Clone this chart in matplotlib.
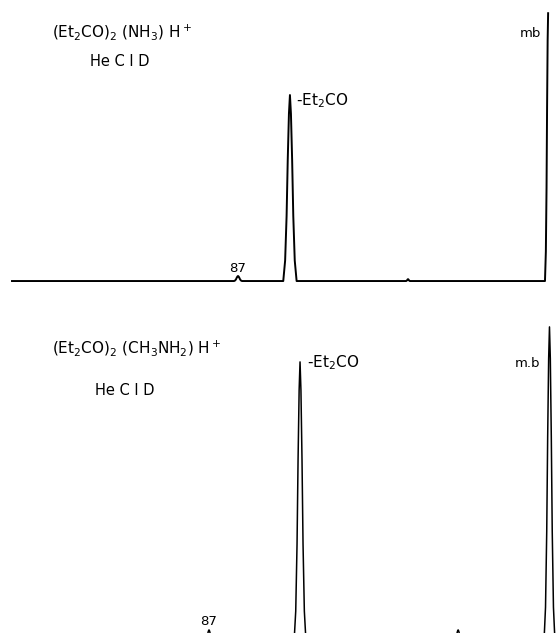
import matplotlib
matplotlib.use("Agg")
import matplotlib.pyplot as plt
import numpy as np

# x = fragment energy / parent energy (E/E0), y = relative intensity
# top spectrum: (Et2CO)2(NH3)H+
top_centers = [0.4571, 0.5480, 0.7547, 1.0000]
top_heights = [0.027, 1.000, 0.010, 1.440]
top_halfw = [0.0070, 0.0117, 0.0035, 0.0055]
top_start, top_end = 0.0614, 1.0000

# bottom spectrum: (Et2CO)2(CH3NH2)H+
bot_centers = [0.4257, 0.5794, 0.8463, 1.0005]
bot_heights = [0.043, 1.000, 0.043, 1.125]
bot_halfw = [0.0068, 0.0101, 0.0068, 0.0093]
bot_start, bot_end = 0.0729, 1.0100

# peak outline (offset / half-width at base, fraction of height)
shape_dx = [-1.0, -0.72, -0.5, -0.33, -0.15, 0.0, 0.15, 0.33, 0.5, 0.72, 1.0]
shape_y = [0.0, 0.11, 0.35, 0.65, 0.9, 1.0, 0.9, 0.65, 0.35, 0.11, 0.0]


def build_trace(centers, heights, halfw, start, end):
    dx = np.array(shape_dx)
    knots = [start, end]
    for c, w in zip(centers, halfw):
        knots.extend(c + dx * w)
    xs = np.unique(np.clip(knots, start, end))
    ys = np.zeros_like(xs)
    for c, h, w in zip(centers, heights, halfw):
        ys += np.interp(xs, c + dx * w, h * np.array(shape_y), left=0, right=0)
    return xs, ys


W, H = 556, 633
fig = plt.figure(figsize=(W / 100, H / 100), dpi=100)
ax1 = fig.add_axes([0, 1 - 300 / H, 1, 300 / H])
ax2 = fig.add_axes([0, 0, 1, 333 / H])

fs = 11
fs_small = 9.5

# top panel
x1, y1 = build_trace(top_centers, top_heights, top_halfw, top_start, top_end)
ax1.plot(x1, y1, color='black', lw=1.4, solid_joinstyle='round')
ax1.set_xlim(0.0404, 1.0138)
ax1.set_ylim(-0.102, 1.511)
ax1.text(52 / W, 0.877, r'(Et$_2$CO)$_2$ (NH$_3$) H$^+$', transform=ax1.transAxes,
         fontsize=fs, va='baseline')
ax1.text(90 / W, 0.78, 'He C I D', transform=ax1.transAxes, fontsize=10.5, va='baseline')
ax1.text(520 / W, 0.877, 'mb', transform=ax1.transAxes, fontsize=fs_small, va='baseline')
ax1.text(top_centers[1] + 0.0107, 0.946, r'-Et$_2$CO', fontsize=fs, va='baseline')
ax1.text(top_centers[0], 0.048, '87', fontsize=fs_small, va='baseline', ha='center')
ax1.axis('off')

# bottom panel (baseline lies just below the lower edge)
x2, y2 = build_trace(bot_centers, bot_heights, bot_halfw, bot_start, bot_end)
ax2.plot(x2, y2, color='black', lw=1.1, solid_joinstyle='round')
ax2.set_xlim(0.0729, 1.0115)
ax2.set_ylim(0.032, 1.221)
ax2.text(52 / W, 0.841, r'(Et$_2$CO)$_2$ (CH$_3$NH$_2$) H$^+$', transform=ax2.transAxes,
         fontsize=fs, va='baseline')
ax2.text(95 / W, 0.715, 'He C I D', transform=ax2.transAxes, fontsize=10.5, va='baseline')
ax2.text(515 / W, 0.799, 'm.b', transform=ax2.transAxes, fontsize=fs_small, va='baseline')
ax2.text(bot_centers[1] + 0.0112, 0.979, r'-Et$_2$CO', fontsize=fs, va='baseline')
ax2.text(bot_centers[0], 0.061, '87', fontsize=fs_small, va='baseline', ha='center')
ax2.axis('off')

fig.savefig('out.png', dpi=100)
